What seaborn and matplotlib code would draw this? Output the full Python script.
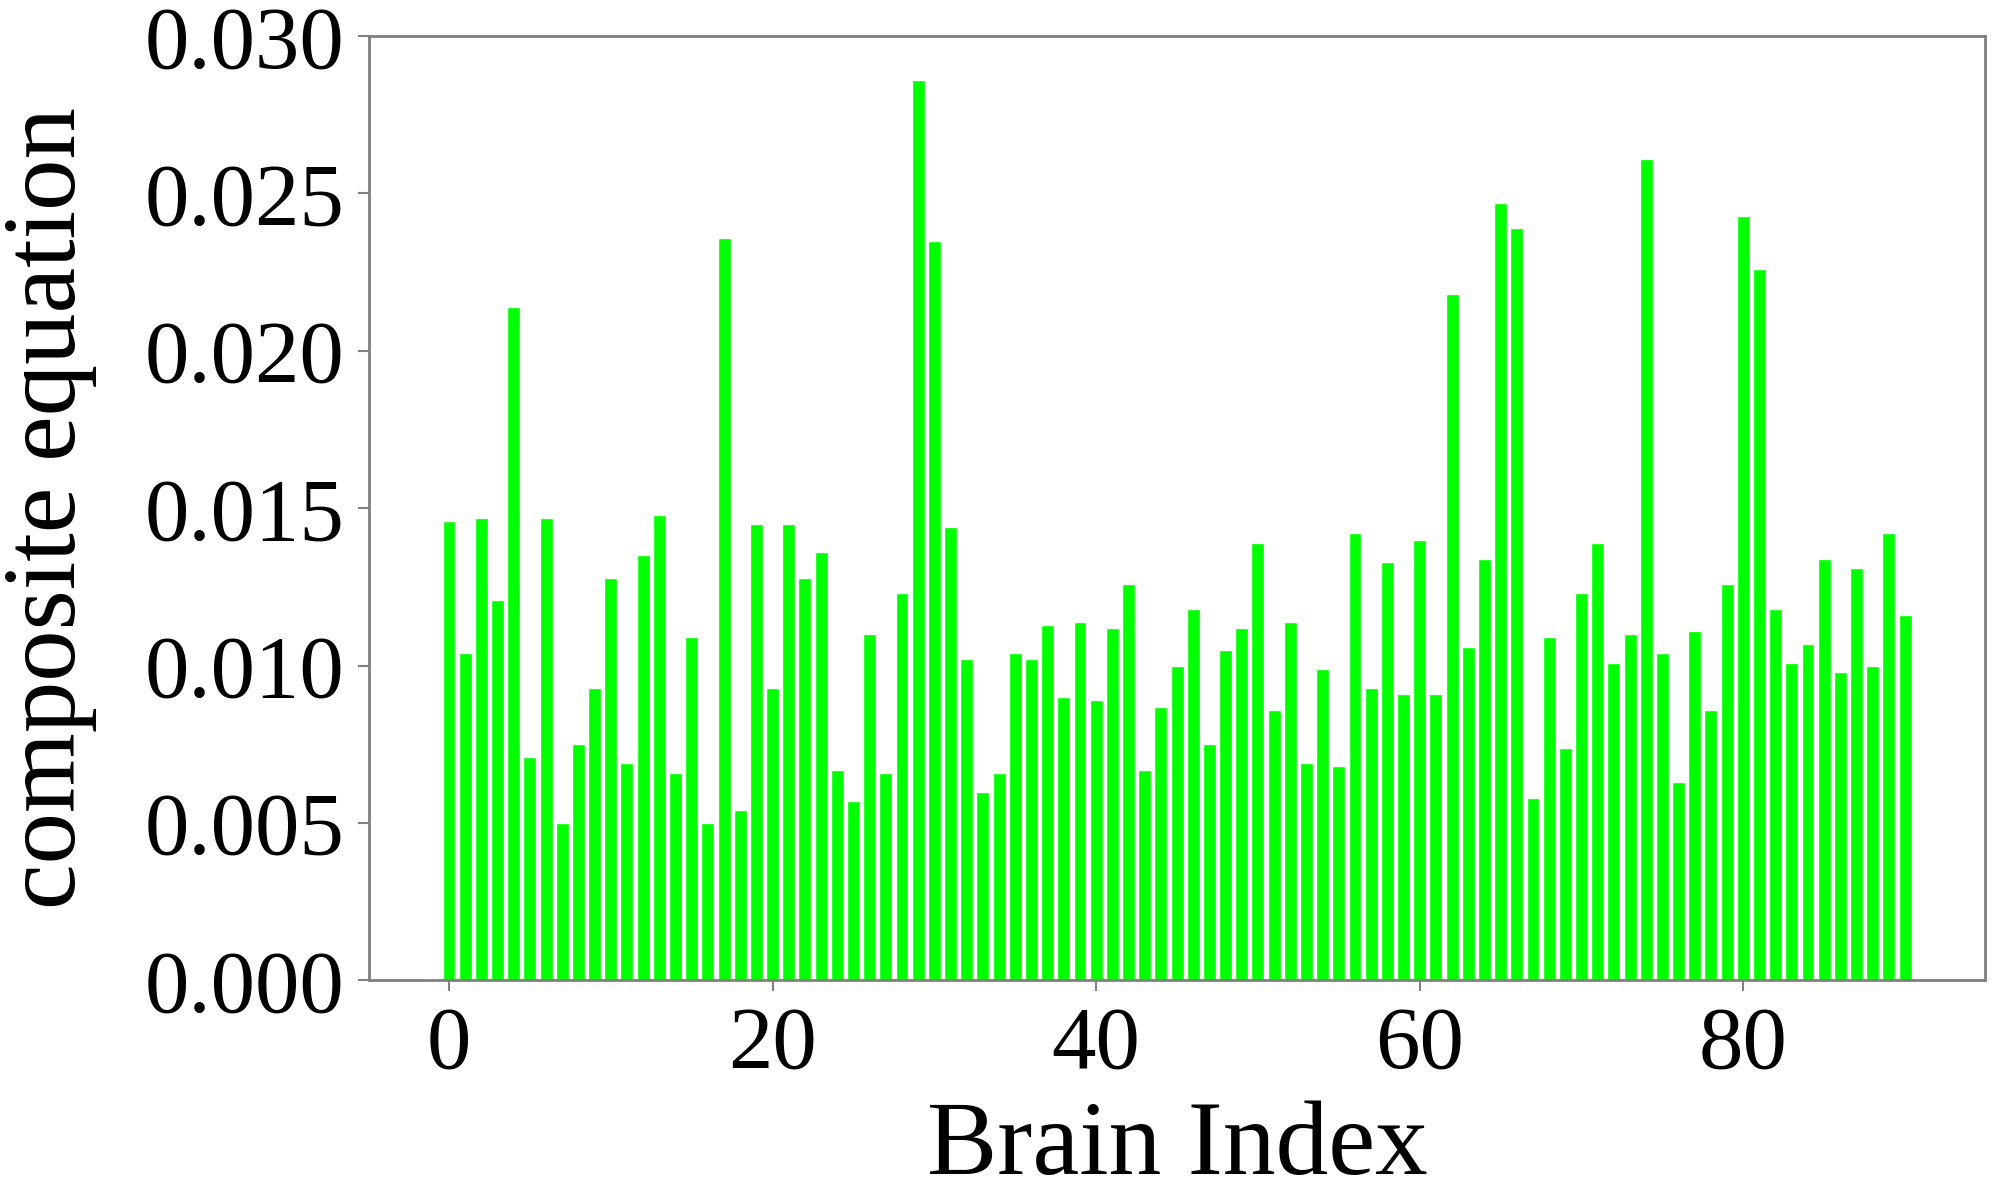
import numpy as np
import seaborn as sns
from matplotlib import pyplot as plt

# composite equation value per brain region
brain_index = np.arange(91)
composite = [
    0.0146, 0.0104, 0.0147, 0.0121, 0.0214, 0.0071, 0.0147, 0.0050, 0.0075, 0.0093,
    0.0128, 0.0069, 0.0135, 0.0148, 0.0066, 0.0109, 0.0050, 0.0236, 0.0054, 0.0145,
    0.0093, 0.0145, 0.0128, 0.0136, 0.0067, 0.0057, 0.0110, 0.0066, 0.0123, 0.0286,
    0.0235, 0.0144, 0.0102, 0.0060, 0.0066, 0.0104, 0.0102, 0.0113, 0.0090, 0.0114,
    0.0089, 0.0112, 0.0126, 0.0067, 0.0087, 0.0100, 0.0118, 0.0075, 0.0105, 0.0112,
    0.0139, 0.0086, 0.0114, 0.0069, 0.0099, 0.0068, 0.0142, 0.0093, 0.0133, 0.0091,
    0.0140, 0.0091, 0.0218, 0.0106, 0.0134, 0.0247, 0.0239, 0.0058, 0.0109, 0.0074,
    0.0123, 0.0139, 0.0101, 0.0110, 0.0261, 0.0104, 0.0063, 0.0111, 0.0086, 0.0126,
    0.0243, 0.0226, 0.0118, 0.0101, 0.0107, 0.0134, 0.0098, 0.0131, 0.0100, 0.0142,
    0.0116,
]

sns.set_style("white")
plt.rcParams['font.family'] = ['Liberation Serif', 'DejaVu Serif']
plt.rcParams['text.color'] = 'black'
plt.rcParams['axes.labelcolor'] = 'black'
plt.rcParams['xtick.color'] = 'black'
plt.rcParams['ytick.color'] = 'black'

fig = plt.figure(figsize=(19.95, 12.03), dpi=100)
ax = fig.add_axes([0.185, 0.185, 0.81, 0.785])

sns.barplot(x=brain_index, y=composite, native_scale=True, color="#00ff00",
            saturation=1, width=0.8, ax=ax)

ax.set_xlim(-4.94, 94.94)
ax.set_ylim(0, 0.030)
ax.set_yticks([0.000, 0.005, 0.010, 0.015, 0.020, 0.025, 0.030])
ax.set_yticklabels(["0.000", "0.005", "0.010", "0.015", "0.020", "0.025", "0.030"])
ax.set_xticks([0, 20, 40, 60, 80])

for s in ax.spines.values():
    s.set_color("#808080")
    s.set_linewidth(2)
ax.tick_params(axis="both", which="major", labelsize=64, length=8, width=1.5,
               color="#808080", labelcolor="black", direction="out",
               bottom=True, left=True, pad=10)

ax.set_xlabel("Brain Index", fontsize=76, labelpad=10)
ax.set_ylabel("composite equation", fontsize=74, labelpad=34)

fig.savefig("out.png", dpi=100)
